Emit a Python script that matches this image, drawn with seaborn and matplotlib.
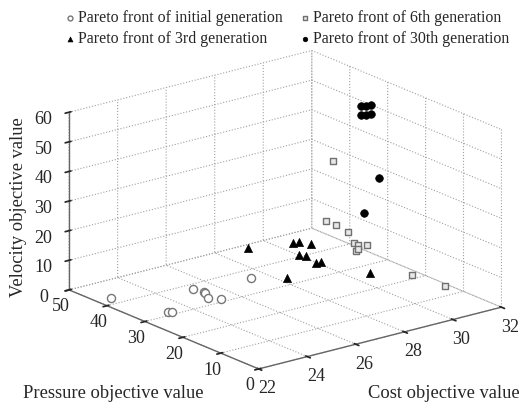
import matplotlib
matplotlib.use('Agg')
import matplotlib.pyplot as plt
import seaborn as sns
import pandas as pd

sns.set_theme(style='white')
plt.rcParams['font.family'] = ['Liberation Serif', 'DejaVu Serif']
plt.rcParams['grid.linestyle'] = ':'
plt.rcParams['grid.color'] = '#a0a0a0'
plt.rcParams['grid.linewidth'] = 0.8

# ---- data (cost, pressure, velocity) ----
init_cost = [22.05, 24.71, 24.79, 24.72, 24.55, 24.82, 22.60, 22.70, 26.32]
init_pres = [39.3, 34.6, 32.4, 31.5, 29.6, 27.9, 27.8, 27.4, 29.7]
init_vel = [3, 3, 3, 3, 3, 3, 3, 3, 6]

g3_cost = [26.99, 28.46, 28.68, 28.84, 28.22, 28.30, 28.55, 28.72, 27.42, 29.62]
g3_pres = [34.8, 32.2, 32.0, 30.1, 29.3, 27.8, 26.7, 26.7, 27.3, 19.4]
g3_vel = [12, 12, 12, 12, 10, 10, 8, 8, 5, 6]

g6_cost = [29.39, 29.15, 29.34, 29.58, 29.60, 29.58, 29.81, 29.53, 29.52, 30.93, 31.46]
g6_pres = [27.6, 27.9, 26.5, 24.9, 23.5, 22.3, 21.4, 22.5, 21.9, 16.8, 11.5]
g6_vel = [40, 20, 19, 17, 14, 14, 14, 12, 13, 4, 2]

g30_cost = [31.30, 31.45, 31.60, 31.30, 31.45, 31.60, 30.42, 29.71]
g30_pres = [32.6, 32.2, 31.8, 32.6, 32.2, 31.8, 22.2, 21.5]
g30_vel = [52, 52, 52, 49, 49, 49, 35, 25]

labels = ['Pareto front of initial generation', 'Pareto front of 3rd generation',
          'Pareto front of 6th generation', 'Pareto front of 30th generation']

frames = []
for lab, c, p, v in [(labels[0], init_cost, init_pres, init_vel),
                     (labels[1], g3_cost, g3_pres, g3_vel),
                     (labels[2], g6_cost, g6_pres, g6_vel),
                     (labels[3], g30_cost, g30_pres, g30_vel)]:
    frames.append(pd.DataFrame({'cost': c, 'pressure': p, 'velocity': v, 'group': lab}))
df = pd.concat(frames, ignore_index=True)

styles = {
    labels[0]: dict(marker='o', s=34, facecolors='white', edgecolors='#777777', linewidths=1.0),
    labels[1]: dict(marker='^', s=34, facecolors='black', edgecolors='black', linewidths=0.5),
    labels[2]: dict(marker='s', s=24, facecolors='#e8e8e8', edgecolors='#707070', linewidths=1.0),
    labels[3]: dict(marker='o', s=30, facecolors='black', edgecolors='black', linewidths=0.5),
}

fig = plt.figure(figsize=(5.22, 4.04), dpi=100)
ax = fig.add_axes([0.036, -0.0326, 1.0, 1.0], projection='3d', proj_type='ortho')
ax.view_init(elev=19, azim=-128)
ax.set_box_aspect((1, 1, 0.61), zoom=1.14)

handles = {}
for lab in labels:
    sub = df[df['group'] == lab]
    h = ax.scatter(sub['cost'], sub['pressure'], sub['velocity'], depthshade=False,
                   label=lab, **styles[lab])
    handles[lab] = h

ax.set_xlim(22, 32)
ax.set_ylim(0, 50)
ax.set_zlim(0, 60)
ax.set_xticks([22, 24, 26, 28, 30, 32])
ax.set_yticks([0, 10, 20, 30, 40, 50])
ax.set_zticks([0, 10, 20, 30, 40, 50, 60])
ax.grid(True)
for axis in (ax.xaxis, ax.yaxis, ax.zaxis):
    axis.set_pane_color((1, 1, 1, 0))
    axis.pane.set_edgecolor('none')
    axis.line.set_color('#666666')
    axis.line.set_linewidth(1.0)
ax.tick_params(labelsize=13)
ax.xaxis.set_tick_params(pad=-1.2)
ax.yaxis.set_tick_params(pad=-2.6)
ax.zaxis.set_tick_params(pad=1.0)

fig.legend([handles[l] for l in labels], labels, ncol=2, loc='upper left',
           bbox_to_anchor=(64 / 522, 1 - 10 / 404), frameon=False, fontsize=11.4,
           handlelength=0.8, handletextpad=0.1, columnspacing=1.0, markerscale=0.6,
           labelspacing=0.3, borderpad=0.0, borderaxespad=0.0)

fig.text(0.2165, 0.027, 'Pressure objective value', ha='center', va='center', fontsize=13.3)
fig.text(0.851, 0.027, 'Cost objective value', ha='center', va='center', fontsize=13.3)
fig.text(0.036, 0.488, 'Velocity objective value', ha='center', va='center', rotation=90, fontsize=13.3)

fig.savefig('out.png', dpi=100)
